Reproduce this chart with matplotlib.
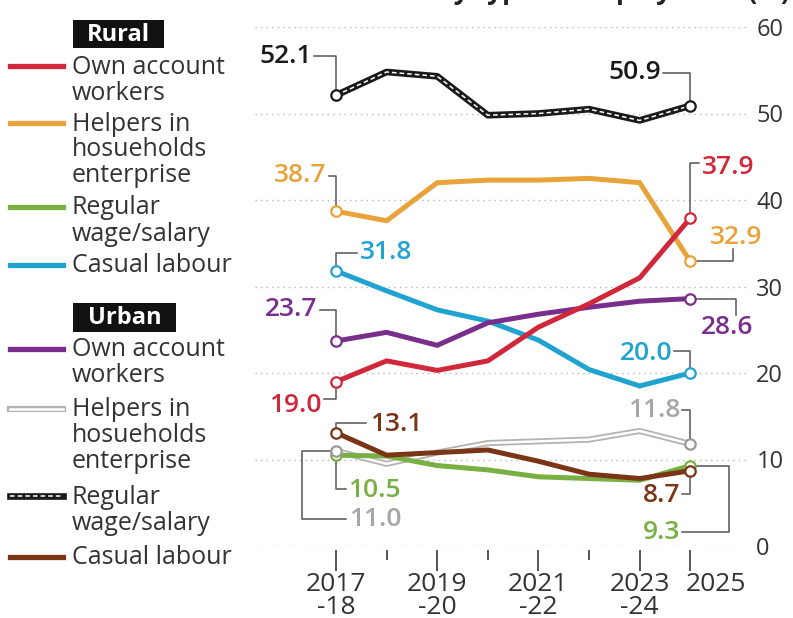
import matplotlib.pyplot as plt
import matplotlib.transforms as mtransforms
from matplotlib.patches import Rectangle
import numpy as np

plt.rcParams['font.family'] = ['Open Sans', 'DejaVu Sans']

years = ['2017-18', '2018-19', '2019-20', '2020-21', '2021-22', '2022-23', '2023-24', '2025']
tick_pos = [0, 2, 4, 6, 7]
tick_labels = ['2017\n-18', '2019\n-20', '2021\n-22', '2023\n-24', '2025']

# rural
rural_own = [19.0, 21.4, 20.3, 21.4, 25.3, 28.0, 31.0, 37.9]
rural_helpers = [38.7, 37.6, 42.0, 42.3, 42.3, 42.5, 42.0, 32.9]
rural_regular = [10.5, 10.4, 9.3, 8.8, 8.0, 7.8, 7.6, 9.3]
rural_casual = [31.8, 29.5, 27.3, 26.0, 23.8, 20.4, 18.5, 20.0]
# urban
urban_own = [23.7, 24.7, 23.2, 25.8, 26.8, 27.6, 28.3, 28.6]
urban_helpers = [11.0, 9.5, 10.8, 11.9, 12.1, 12.3, 13.3, 11.8]
urban_regular = [52.1, 54.8, 54.3, 49.8, 50.0, 50.5, 49.2, 50.9]
urban_casual = [13.1, 10.5, 10.8, 11.1, 9.8, 8.3, 7.8, 8.7]

RED, ORANGE, GREEN, BLUE = '#d0283a', '#e8a33a', '#78b043', '#21a3cf'
PURPLE, GREY, BLACK, BROWN = '#7a2e8c', '#b3b3b3', '#1a1a1a', '#7a3517'

x = np.arange(len(years))

fig = plt.figure(figsize=(7.93, 6.18), dpi=100)
W, H = 793, 618
ax = fig.add_axes([255 / W, 1 - 546 / H, (748 - 255) / W, (546 - 27) / H])
ax.set_xlim(-1.6, 8.14)
ax.set_ylim(0, 60)

for s in ax.spines.values():
    s.set_visible(False)
ax.spines['bottom'].set_position(('outward', 3))

ax.set_yticks(range(0, 61, 10))
ax.yaxis.tick_right()
ax.tick_params(axis='y', length=0, pad=6, labelsize=17, labelcolor='#333333')
ax.grid(axis='y', ls=(0, (1, 3)), color='#b5b5b5', lw=1)
ax.set_axisbelow(True)

ax.set_xticks(tick_pos)
ax.set_xticklabels(tick_labels, fontsize=19, color='#333333', linespacing=0.85)
ax.set_xticks([1, 3, 5], minor=True)
ax.tick_params(axis='x', which='major', length=15, width=1.4, color='#555555', pad=1)
ax.tick_params(axis='x', which='minor', length=7, width=1.4, color='#555555')
last = ax.get_xticklabels()[-1]
last.set_horizontalalignment('left')
last.set_transform(last.get_transform() + mtransforms.ScaledTranslation(-5 / 100, 0, fig.dpi_scale_trans))


def series(vals, color, lw=3.6, z=3):
    ax.plot(x, vals, color=color, lw=lw, zorder=z, solid_joinstyle='miter')


series(rural_helpers, ORANGE)
series(rural_casual, BLUE)
series(urban_own, PURPLE)
series(rural_own, RED, z=4)
# urban helpers: grey outline
ax.plot(x, urban_helpers, color=GREY, lw=4.4, zorder=3)
ax.plot(x, urban_helpers, color='white', lw=1.8, zorder=3)
series(rural_regular, GREEN)
series(urban_casual, BROWN, z=4)
# urban regular: black with white dashes
ax.plot(x, urban_regular, color=BLACK, lw=4.8, zorder=3)
ax.plot(x, urban_regular, color='white', lw=1.1, ls=(0, (3, 2)), zorder=3)

for vals, c in [(rural_own, RED), (rural_helpers, ORANGE), (rural_regular, GREEN),
                (rural_casual, BLUE), (urban_own, PURPLE), (urban_helpers, '#999999'),
                (urban_regular, BLACK), (urban_casual, BROWN)]:
    ax.plot([x[0], x[-1]], [vals[0], vals[-1]], 'o', ms=7.5, mfc='white', mec=c, mew=1.6, zorder=6)

# value labels with elbow connectors
CONN = '#555555'


def label(txt, color, tx, ty, path, ha):
    px, py = zip(*path)
    ax.plot(px, py, color=CONN, lw=1.1, zorder=2, clip_on=False)
    ax.text(tx, ty, txt, color=color, fontsize=19, fontweight='semibold', ha=ha, va='center',
            clip_on=False)


label('52.1', BLACK, -0.47, 56.6, [(-0.44, 56.6), (0, 56.6), (0, urban_regular[0])], 'right')
label('50.9', BLACK, 6.42, 54.7, [(6.46, 54.7), (7, 54.7), (7, urban_regular[-1])], 'right')
label('38.7', ORANGE, -0.18, 42.8, [(-0.14, 42.8), (0, 42.8), (0, rural_helpers[0])], 'right')
label('37.9', RED, 7.23, 43.8, [(7, rural_own[-1]), (7, 44.3), (7.18, 44.3)], 'left')
label('32.9', ORANGE, 7.9, 35.7, [(7, rural_helpers[-1]), (7.85, rural_helpers[-1]), (7.85, 34.3)],
      'center')
label('31.8', BLUE, 0.47, 33.9, [(0, rural_casual[0]), (0, 33.9), (0.42, 33.9)], 'left')
label('23.7', PURPLE, -0.36, 27.3, [(-0.32, 27.3), (0, 27.3), (0, urban_own[0])], 'right')
label('28.6', PURPLE, 7.73, 25.3, [(7, urban_own[-1]), (7.9, urban_own[-1]), (7.9, 26.7)],
      'center')
label('20.0', BLUE, 6.64, 22.3, [(6.68, 22.6), (7, 22.6), (7, rural_casual[-1])], 'right')
label('19.0', RED, -0.28, 16.3, [(-0.24, 17.0), (0, 17.0), (0, rural_own[0])], 'right')
label('11.8', '#a6a6a6', 6.8, 15.7, [(6.84, 15.7), (7, 15.7), (7, urban_helpers[-1])], 'right')
label('13.1', BROWN, 0.67, 14.1, [(0, urban_casual[0]), (0, 14.2), (0.6, 14.2)], 'left')
label('10.5', GREEN, 0.24, 6.4, [(0, rural_regular[0]), (0, 6.6), (0.2, 6.6)], 'left')
label('11.0', '#a6a6a6', 0.26, 3.1,
      [(0, urban_helpers[0]), (-0.67, urban_helpers[0]), (-0.67, 3.1), (0.2, 3.1)], 'left')
label('8.7', BROWN, 6.8, 5.8, [(6.84, 6.0), (7, 6.0), (7, urban_casual[-1])], 'right')
label('9.3', GREEN, 6.8, 1.6,
      [(7, rural_regular[-1]), (7.76, rural_regular[-1]), (7.76, 1.6), (6.84, 1.6)], 'right')

# title, cut off by the top edge as in the source image
fig.text(790 / W, 1 + 1 / H, 'Share of workers by type of employment (%)', ha='right',
         va='baseline', fontsize=19, fontweight='bold', color='#222222')


# legend drawn by hand (pixel positions)
def fx(p):
    return p / W


def fy(p):
    return 1 - p / H


def header(txt, y_top, y_bot, x_right):
    fig.add_artist(Rectangle((fx(73), fy(y_bot)), fx(x_right) - fx(73), fy(y_top) - fy(y_bot),
                             transform=fig.transFigure, fc='#111111', ec='none'))
    fig.text(fx((73 + x_right) / 2), fy((y_top + y_bot) / 2 + 1), txt, fontsize=17,
             fontweight='bold', color='white', va='center', ha='center')


def entry(lines, y0, color, style='solid'):
    xs = [fx(10), fx(63)]
    ys = [fy(y0 - 1), fy(y0 - 1)]
    if style == 'solid':
        fig.add_artist(plt.Line2D(xs, ys, color=color, lw=3.8))
    elif style == 'outline':
        fig.add_artist(plt.Line2D(xs, ys, color=GREY, lw=4.4))
        fig.add_artist(plt.Line2D(xs, ys, color='white', lw=1.8))
    else:
        fig.add_artist(plt.Line2D(xs, ys, color=BLACK, lw=4.8))
        fig.add_artist(plt.Line2D(xs, ys, color='white', lw=1.1, ls=(0, (3, 2))))
    for i, t in enumerate(lines):
        fig.text(fx(72), fy(y0 + i * 26), t, fontsize=18, color='#333333', va='center', ha='left')


header('Rural', 20, 48, 164)
entry(['Own account', 'workers'], 67, RED)
entry(['Helpers in', 'hosueholds', 'enterprise'], 124, ORANGE)
entry(['Regular', 'wage/salary'], 208, GREEN)
entry(['Casual labour'], 266, BLUE)
header('Urban', 303, 332, 176)
entry(['Own account', 'workers'], 350, PURPLE)
entry(['Helpers in', 'hosueholds', 'enterprise'], 410, GREY, 'outline')
entry(['Regular', 'wage/salary'], 497, BLACK, 'dashed')
entry(['Casual labour'], 558, BROWN)

fig.savefig('out.png', dpi=100)
